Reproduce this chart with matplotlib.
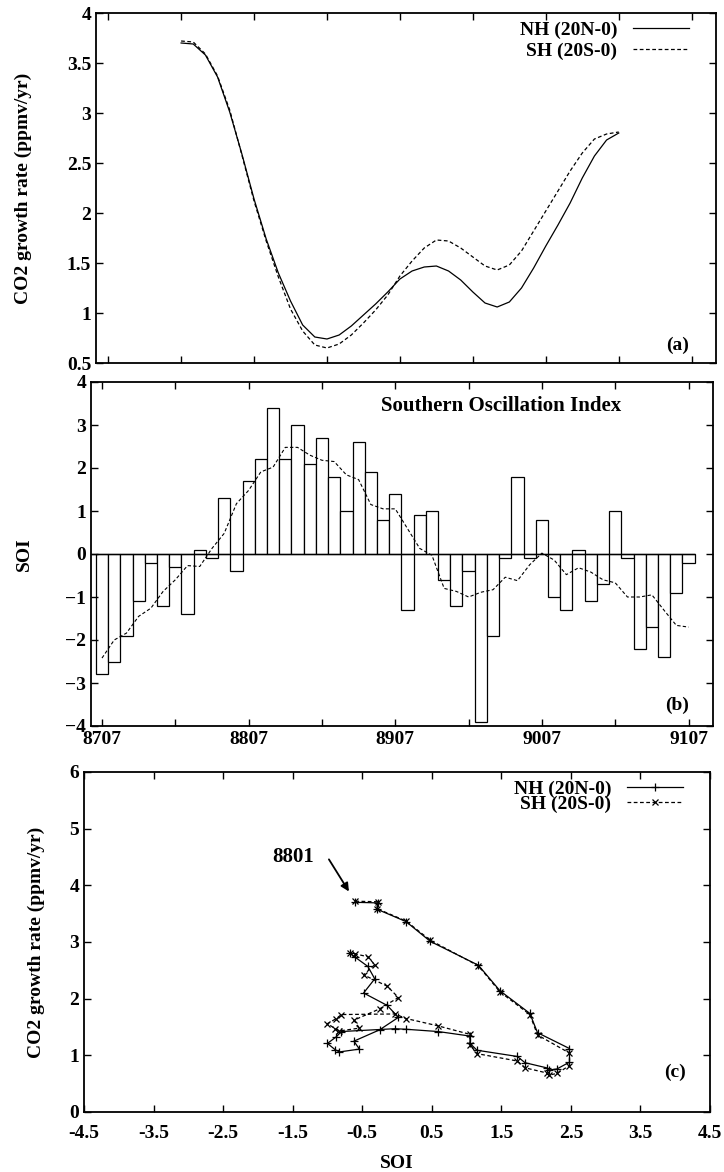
import numpy as np
import matplotlib
matplotlib.use('Agg')
import matplotlib.pyplot as plt

plt.rcParams['font.family'] = ['Liberation Serif', 'DejaVu Serif']
plt.rcParams['font.weight'] = 'bold'
plt.rcParams['axes.labelweight'] = 'bold'
plt.rcParams['font.size'] = 14

# monthly SOI, 8707 .. 9107
soi = [-2.8, -2.5, -1.9, -1.1, -0.2, -1.2, -0.3, -1.4, 0.1, -0.1, 1.3, -0.4,
       1.7, 2.2, 3.4, 2.2, 3.0, 2.1, 2.7, 1.8, 1.0, 2.6, 1.9, 0.8,
       1.4, -1.3, 0.9, 1.0, -0.6, -1.2, -0.4, -3.9, -1.9, -0.1, 1.8, -0.1,
       0.8, -1.0, -1.3, 0.1, -1.1, -0.7, 1.0, -0.1, -2.2, -1.7, -2.4, -0.9,
       -0.2]
# running mean of SOI
soi_mean = [-2.42, -2.0, -1.84, -1.45, -1.26, -0.87, -0.6, -0.27, -0.29, 0.13, 0.48, 1.17,
            1.48, 1.91, 2.02, 2.48, 2.48, 2.3, 2.18, 2.15, 1.84, 1.73, 1.15, 1.05,
            1.05, 0.59, 0.13, -0.03, -0.8, -0.87, -1.0, -0.89, -0.83, -0.54, -0.62, -0.25,
            0.02, -0.14, -0.48, -0.32, -0.42, -0.6, -0.67, -1.0, -1.0, -0.95, -1.31, -1.66,
            -1.7]
month_labels = ['8707', '8807', '8907', '9007', '9107']

# CO2 growth rate, 8801 .. 9101
nh = [3.70, 3.69, 3.58, 3.36, 3.01, 2.59, 2.14, 1.74, 1.40, 1.12, 0.88, 0.76,
      0.74, 0.78, 0.87, 0.98, 1.09, 1.21, 1.34, 1.42, 1.46, 1.47, 1.42, 1.33,
      1.21, 1.10, 1.06, 1.11, 1.25, 1.45, 1.67, 1.88, 2.10, 2.35, 2.57, 2.73,
      2.80]
sh = [3.72, 3.71, 3.59, 3.37, 3.03, 2.58, 2.12, 1.72, 1.36, 1.04, 0.82, 0.68,
      0.65, 0.69, 0.78, 0.90, 1.03, 1.18, 1.37, 1.52, 1.65, 1.73, 1.72, 1.65,
      1.56, 1.47, 1.43, 1.48, 1.62, 1.82, 2.02, 2.22, 2.42, 2.60, 2.74, 2.79,
      2.81]
start = 6  # 8801 is the 7th month after 8707

m_all = np.arange(len(soi))
m_co2 = np.arange(start, start + len(nh))
soi_c = np.array(soi_mean[start:start + len(nh)])

W, H = 724, 1172
fig = plt.figure(figsize=(W / 100, H / 100), dpi=100)

def add_ax(l, r, t, b):
    return fig.add_axes([l / W, 1 - b / H, (r - l) / W, (b - t) / H])

ax1 = add_ax(96, 716, 13, 363)
ax2 = add_ax(91, 713, 382, 726)
ax3 = add_ax(84, 710, 772, 1112)

dash = (0, (3, 2))
for ax in (ax1, ax2, ax3):
    ax.tick_params(direction='in', length=5, width=1, top=True, right=True, labelsize=14)
    for s in ax.spines.values():
        s.set_linewidth(1.3)

# (a) growth rate vs time
ax1.plot(m_co2, nh, color='black', lw=0.9, label='NH (20N-0)')
ax1.plot(m_co2, sh, color='black', lw=0.9, ls=dash, label='SH (20S-0)')
ax1.set_xlim(-1, 50)
ax1.set_ylim(0.5, 4)
ax1.set_xticks(np.arange(0, 49, 6))
ax1.set_xticklabels([])
ax1.set_yticks(np.arange(0.5, 4.01, 0.5))
ax1.set_yticklabels(['0.5', '1', '1.5', '2', '2.5', '3', '3.5', '4'])
ax1.set_ylabel('CO2 growth rate (ppmv/yr)', fontsize=14)
ax1.yaxis.set_label_coords(-0.103, 0.5)
ax1.legend(loc='upper right', frameon=False, markerfirst=False, handlelength=2.9,
           labelspacing=0.2, fontsize=14, bbox_to_anchor=(0.985, 1.027))
ax1.text(0.956, 0.05, '(a)', transform=ax1.transAxes, ha='right', va='center', fontsize=14)

# (b) SOI bars and running mean
ax2.bar(m_all, soi, width=1.0, color='white', edgecolor='black', linewidth=0.9)
ax2.hlines(0, -0.9, m_all[-1] + 0.5, color='black', lw=1.0)
ax2.plot(m_all, soi_mean, color='black', lw=0.8, ls=dash)
ax2.set_xlim(-0.9, 50)
ax2.set_ylim(-4, 4)
ax2.set_xticks(np.arange(0, 49, 6))
ax2.set_xticklabels([month_labels[i // 2] if i % 2 == 0 else '' for i in range(9)])
ax2.set_yticks(np.arange(-4, 5, 1))
ax2.set_ylabel('SOI', fontsize=14)
ax2.yaxis.set_label_coords(-0.093, 0.5)
ax2.text(0.66, 0.93, 'Southern Oscillation Index', transform=ax2.transAxes,
         ha='center', va='center', fontsize=15)
ax2.text(0.961, 0.06, '(b)', transform=ax2.transAxes, ha='right', va='center', fontsize=14)

# (c) growth rate vs SOI
ax3.plot(soi_c, nh, color='black', lw=0.9, marker='+', ms=6, mew=0.9, label='NH (20N-0)')
ax3.plot(soi_c, sh, color='black', lw=0.9, ls=dash, marker='x', ms=5, mew=0.9, label='SH (20S-0)')
ax3.set_xlim(-4.5, 4.5)
ax3.set_ylim(0, 6)
ax3.set_xticks(np.arange(-4.5, 4.6, 1))
ax3.set_xticklabels(['%g' % v for v in np.arange(-4.5, 4.6, 1)])
ax3.set_yticks(np.arange(0, 7, 1))
ax3.tick_params(axis='x', pad=9)
ax3.set_xlabel('SOI', fontsize=14, labelpad=10)
ax3.set_ylabel('CO2 growth rate (ppmv/yr)', fontsize=14)
ax3.yaxis.set_label_coords(-0.062, 0.5)
ax3.legend(loc='upper right', frameon=False, markerfirst=False, handlelength=2.9,
           labelspacing=-0.12, fontsize=14, bbox_to_anchor=(0.985, 1.028))
ax3.text(-1.2, 4.5, '8801', ha='right', va='center', fontsize=15)
ax3.annotate('', xy=(soi_c[0] - 0.07, nh[0] + 0.15), xytext=(-1.0, 4.5),
             arrowprops=dict(arrowstyle='-|>', color='black', lw=1.3, mutation_scale=12))
ax3.text(0.962, 0.118, '(c)', transform=ax3.transAxes, ha='right', va='center', fontsize=14)

fig.savefig('out.png', dpi=100)
